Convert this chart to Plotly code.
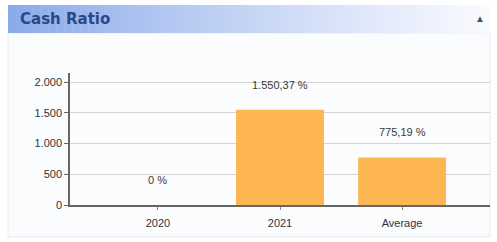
import plotly.graph_objects as go

categories = ["2020", "2021", "Average"]
values = [0.0, 1550.37, 775.19]
y_ticks = [0, 500, 1000, 1500, 2000]
y_tick_labels = ["0", "500", "1.000", "1.500", "2.000"]
title_text = "Cash Ratio"

def fmt(v):
    if v == 0:
        return "0 %"
    s = f"{v:,.2f}"
    s = s.replace(",", "X").replace(".", ",").replace("X", ".")
    return s + " %"

W, H = 497, 242
fig = go.Figure()
fig.add_trace(go.Bar(
    x=categories, y=values, width=0.72,
    marker=dict(color="#FDB652", line=dict(width=0)),
    hoverinfo="skip",
))
for i, (c, v) in enumerate(zip(categories, values)):
    fig.add_annotation(x=i, y=v, text=fmt(v), showarrow=False, yshift=25,
                       font=dict(family="Liberation Sans, Arial", size=11, color="#3a3a3a"),
                       xref="x", yref="y")

shapes = []
# panel background / border
shapes.append(dict(type="rect", xref="paper", yref="paper", layer="below",
                   x0=(8 - 70) / 420, x1=(490 - 70) / 420,
                   y0=(205 - 237) / 132, y1=(205 - 33) / 132,
                   fillcolor="#fbfcfe", line=dict(color="#e6ebf3", width=1)))
# header gradient
n = 60
x_start, x_end = 8, 490
c0 = (138, 170, 234)
c1 = (250, 251, 255)
for i in range(n):
    t = (i / (n - 1)) ** 0.9
    col = tuple(int(c0[k] + (c1[k] - c0[k]) * t) for k in range(3))
    xa = x_start + (x_end - x_start) * i / n
    xb = x_start + (x_end - x_start) * (i + 1) / n + 0.5
    shapes.append(dict(type="rect", xref="paper", yref="paper", layer="below",
                       x0=(xa - 70) / 420, x1=(xb - 70) / 420,
                       y0=(205 - 33) / 132, y1=(205 - 5) / 132,
                       fillcolor="rgb(%d,%d,%d)" % col, line=dict(width=0)))

fig.update_layout(
    width=W, height=H,
    margin=dict(l=70, r=7, t=73, b=37),
    paper_bgcolor="white", plot_bgcolor="rgba(0,0,0,0)",
    separators=",.",
    showlegend=False,
    shapes=shapes,
    font=dict(family="Liberation Sans, Arial", size=11, color="#444444"),
    xaxis=dict(type="category", range=[-0.72, 2.72], showgrid=False, showline=True,
               linecolor="#666666", linewidth=1.5, ticks="outside", ticklen=3,
               tickcolor="#888888", tickfont=dict(size=11, color="#333333"),
               ticklabelstandoff=4, fixedrange=True),
    yaxis=dict(range=[0, 2150], tickvals=y_ticks, ticktext=y_tick_labels,
               showgrid=True, gridcolor="#d4d4d4", gridwidth=1, zeroline=False,
               showline=True, linecolor="#666666", linewidth=1.5,
               ticks="outside", ticklen=4, tickcolor="#666666",
               tickfont=dict(size=11, color="#333333"), fixedrange=True),
)
fig.add_annotation(xref="paper", yref="paper", x=(18 - 70) / 420, y=(205 - 19) / 132,
                   xanchor="left", yanchor="middle", showarrow=False,
                   text="<b>" + title_text + "</b>",
                   font=dict(family="DejaVu Sans, Verdana", size=15, color="#2a4888"))
fig.add_annotation(xref="paper", yref="paper", x=(480 - 70) / 420, y=(205 - 19) / 132,
                   xanchor="center", yanchor="middle", showarrow=False,
                   text="▲", font=dict(size=10, color="#555555"))

fig.write_html("out.html", config={"displayModeBar": False},
               post_script="document.body.style.margin='0';document.body.style.overflow='hidden';")
